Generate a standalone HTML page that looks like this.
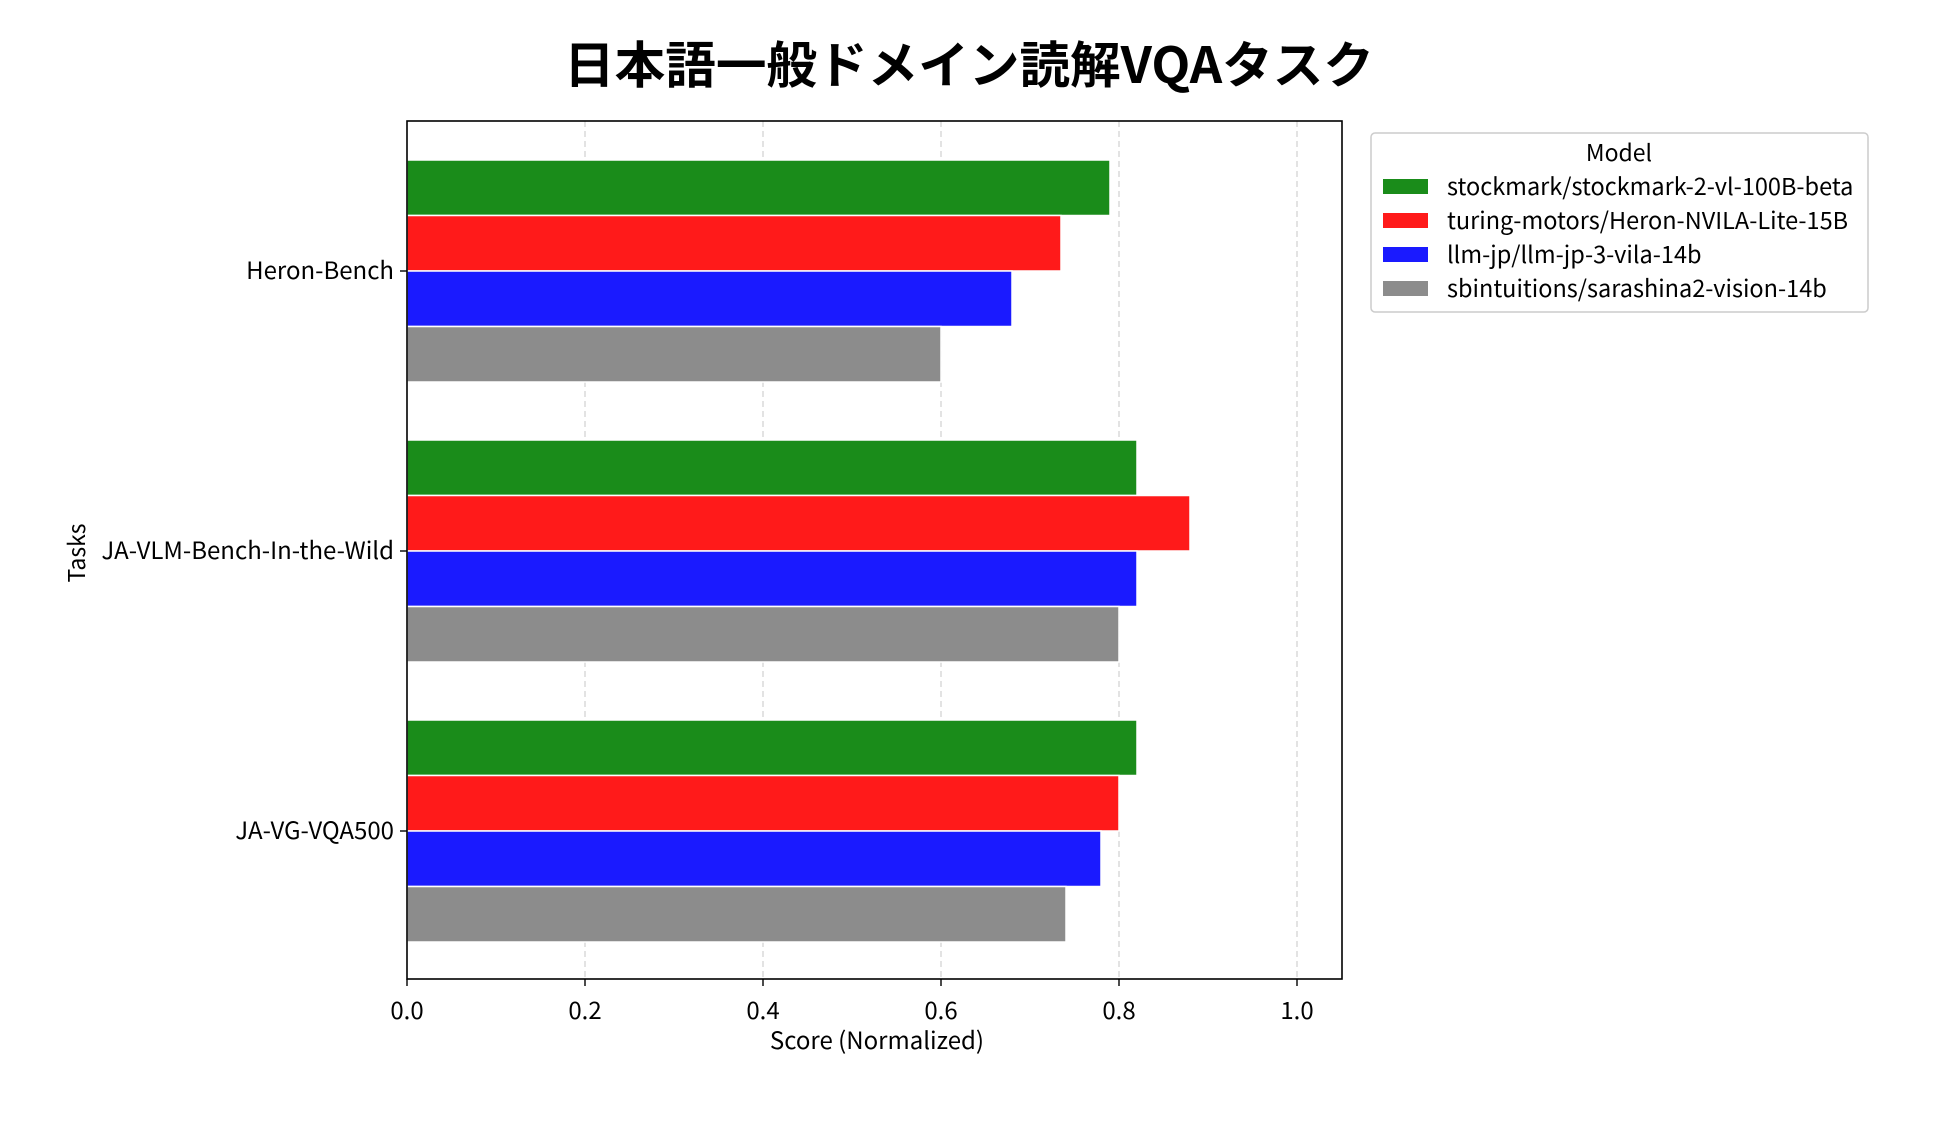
<!DOCTYPE html>
<html><head><meta charset="utf-8"><style>
html,body{margin:0;padding:0;background:#fff;}
svg{display:block;font-family:"Noto Sans CJK JP","Liberation Sans",sans-serif;}
</style></head><body>
<svg width="1950" height="1139" viewBox="0 0 1950 1139" xmlns="http://www.w3.org/2000/svg">
<text x="969" y="83" text-anchor="middle" font-size="50" font-weight="bold" font-family="'Noto Sans CJK JP',sans-serif" textLength="810" lengthAdjust="spacingAndGlyphs">日本語一般ドメイン読解VQAタスク</text>
<!-- grid -->
<g stroke="#d0d0d0" stroke-width="1.2" stroke-dasharray="6,4">
<line x1="585" y1="121" x2="585" y2="979"/>
<line x1="763" y1="121" x2="763" y2="979"/>
<line x1="941" y1="121" x2="941" y2="979"/>
<line x1="1119" y1="121" x2="1119" y2="979"/>
<line x1="1297" y1="121" x2="1297" y2="979"/>
</g>
<!-- bars -->
<g stroke="#fff" stroke-width="1.5">
<rect x="407" y="160" width="703" height="55.5" fill="#1a8c1a"/>
<rect x="407" y="215.5" width="654" height="55.5" fill="#ff1a1a"/>
<rect x="407" y="271" width="605" height="55.5" fill="#1a1aff"/>
<rect x="407" y="326.5" width="534" height="55.5" fill="#8c8c8c"/>
<rect x="407" y="440" width="730" height="55.5" fill="#1a8c1a"/>
<rect x="407" y="495.5" width="783" height="55.5" fill="#ff1a1a"/>
<rect x="407" y="551" width="730" height="55.5" fill="#1a1aff"/>
<rect x="407" y="606.5" width="712" height="55.5" fill="#8c8c8c"/>
<rect x="407" y="720" width="730" height="55.5" fill="#1a8c1a"/>
<rect x="407" y="775.5" width="712" height="55.5" fill="#ff1a1a"/>
<rect x="407" y="831" width="694" height="55.5" fill="#1a1aff"/>
<rect x="407" y="886.5" width="659" height="55.5" fill="#8c8c8c"/>
</g>
<!-- axes frame -->
<rect x="407" y="121" width="935" height="858" fill="none" stroke="#000" stroke-width="1.6"/>
<!-- ticks -->
<g stroke="#000" stroke-width="1.4">
<line x1="407" y1="979" x2="407" y2="986"/>
<line x1="585" y1="979" x2="585" y2="986"/>
<line x1="763" y1="979" x2="763" y2="986"/>
<line x1="941" y1="979" x2="941" y2="986"/>
<line x1="1119" y1="979" x2="1119" y2="986"/>
<line x1="1297" y1="979" x2="1297" y2="986"/>
<line x1="400" y1="271" x2="407" y2="271"/>
<line x1="400" y1="551" x2="407" y2="551"/>
<line x1="400" y1="831" x2="407" y2="831"/>
</g>
<g font-size="24" fill="#000" text-anchor="middle">
<text x="407" y="1019">0.0</text>
<text x="585" y="1019">0.2</text>
<text x="763" y="1019">0.4</text>
<text x="941" y="1019">0.6</text>
<text x="1119" y="1019">0.8</text>
<text x="1297" y="1019">1.0</text>
<text x="877" y="1049">Score (Normalized)</text>
</g>
<g font-size="24" fill="#000" text-anchor="end">
<text x="394" y="279">Heron-Bench</text>
<text x="394" y="559">JA-VLM-Bench-In-the-Wild</text>
<text x="394" y="839">JA-VG-VQA500</text>
</g>
<text x="85" y="553" font-size="23" text-anchor="middle" transform="rotate(-90 85 553)">Tasks</text>
<!-- legend -->
<rect x="1371" y="133" width="497" height="179" rx="4" fill="#fff" stroke="#cccccc" stroke-width="1.5"/>
<text x="1619" y="161" font-size="23" text-anchor="middle">Model</text>
<rect x="1383" y="179" width="45" height="15" fill="#1a8c1a"/>
<rect x="1383" y="213" width="45" height="15" fill="#ff1a1a"/>
<rect x="1383" y="247" width="45" height="15" fill="#1a1aff"/>
<rect x="1383" y="281" width="45" height="15" fill="#8c8c8c"/>
<g font-size="23.5">
<text x="1447" y="195">stockmark/stockmark-2-vl-100B-beta</text>
<text x="1447" y="229">turing-motors/Heron-NVILA-Lite-15B</text>
<text x="1447" y="263">llm-jp/llm-jp-3-vila-14b</text>
<text x="1447" y="297">sbintuitions/sarashina2-vision-14b</text>
</g>
</svg>
</body></html>
